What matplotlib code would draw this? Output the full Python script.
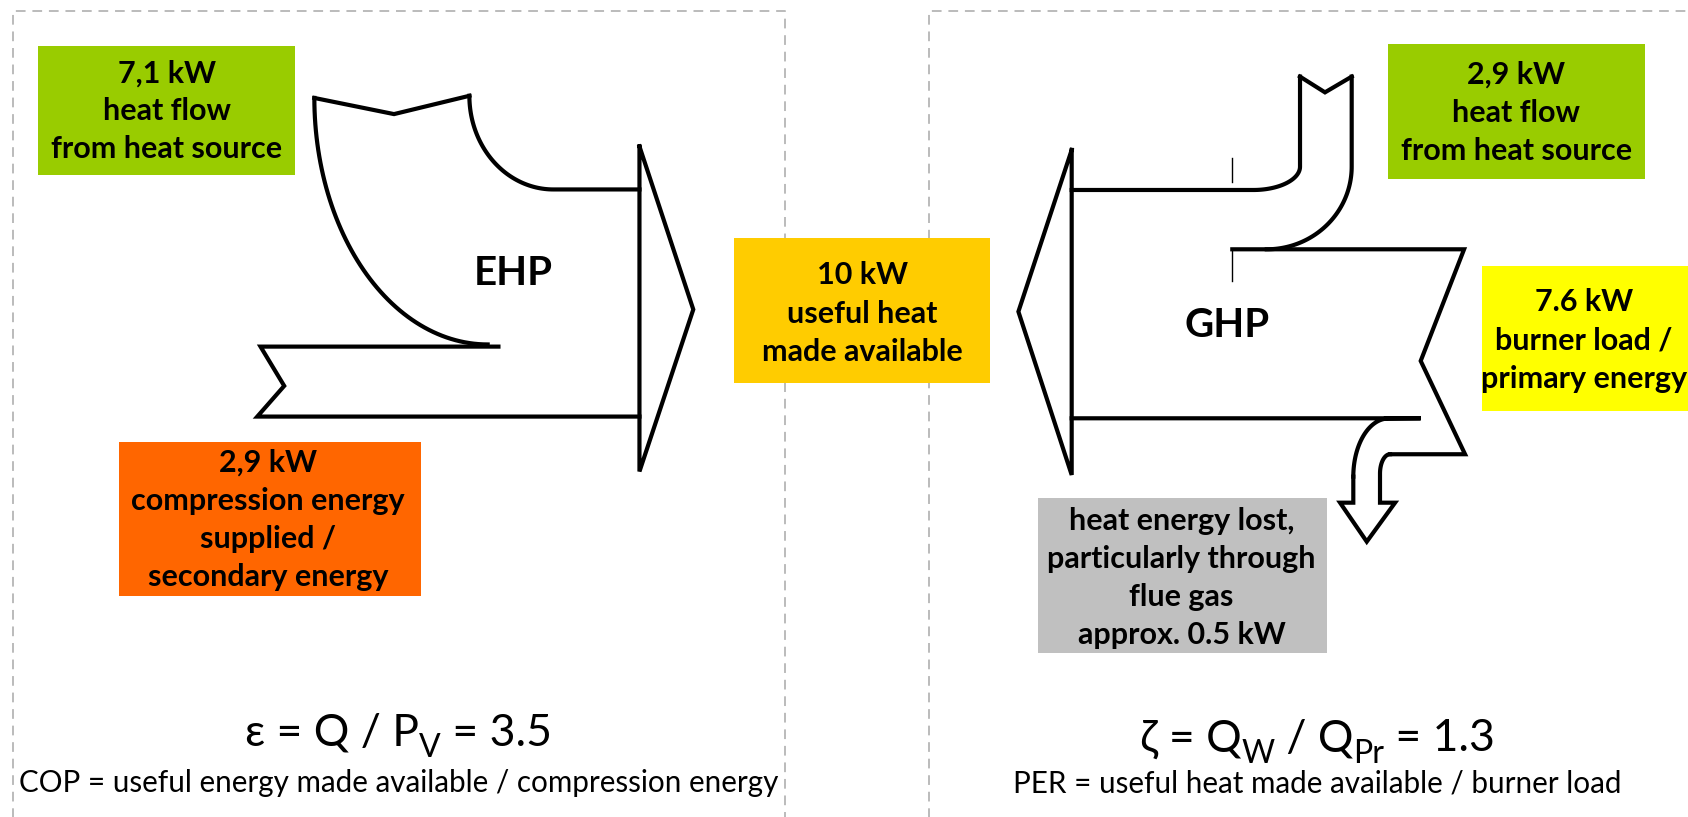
import numpy as np
import matplotlib
matplotlib.use("Agg")
import matplotlib.pyplot as plt
from matplotlib.patches import Rectangle
from matplotlib.transforms import IdentityTransform

# box texts (values in kW)
ehp_source_lines = ["7,1 kW", "heat flow", "from heat source"]
ehp_drive_lines = ["2,9 kW", "compression energy", "supplied /", "secondary energy"]
useful_lines = ["10 kW", "useful heat", "made available"]
ghp_source_lines = ["2,9 kW", "heat flow", "from heat source"]
ghp_burner_lines = ["7.6 kW", "burner load /", "primary energy"]
ghp_loss_lines = ["heat energy lost,", "particularly through", "flue gas", "approx. 0.5 kW"]

cop_value = "3.5"
per_value = "1.3"
cop_text = "COP = useful energy made available / compression energy"
per_text = "PER = useful heat made available / burner load"

FONT = ["Lato", "Noto Sans", "DejaVu Sans"]
LW = 3

fig = plt.figure(figsize=(16.88, 8.17), dpi=100)
ax = fig.add_axes([0, 0, 1, 1])
ax.set_xlim(0, 1568)
ax.set_ylim(759, 0)
ax.axis("off")


def arc(cx, cy, a, b, t0, t1, n=60):
    t = np.linspace(t0, t1, n)
    return cx + a * np.cos(t), cy + b * np.sin(t)


def line(xs, ys, lw=LW):
    ax.plot(xs, ys, color="black", lw=lw, solid_joinstyle="miter",
            solid_capstyle="projecting", zorder=3)


def box(x0, y0, x1, y1, color, lines, cx, ytop, step):
    ax.add_patch(Rectangle((x0, y0), x1 - x0, y1 - y0, facecolor=color,
                           edgecolor="none", zorder=2))
    for i, s in enumerate(lines):
        ax.text(cx, ytop + i * step, s, ha="center", va="center_baseline",
                fontsize=22, fontweight="bold", family=FONT, zorder=4)


# dashed frames
dash = dict(color="#bbbbbb", lw=1.4, ls=(0, (5, 3.5)), zorder=1)
ax.plot([12, 12, 729, 729], [800, 10, 10, 800], **dash)
ax.plot([863, 863, 1600], [800, 10, 10], **dash)

# coloured boxes
box(35.5, 42.7, 274, 162.3, "#99cc00", ehp_source_lines, 155, 66.5, 34.7)
box(111, 410.5, 391, 554, "#ff6600", ehp_drive_lines, 249, 427.5, 35.5)
box(682, 221, 920, 355.5, "#ffcc00", useful_lines, 801, 253, 36)
box(1289.5, 41, 1528, 166, "#99cc00", ghp_source_lines, 1408.5, 66.7, 35.8)
box(1376.5, 247, 1600, 382, "#ffff00", ghp_burner_lines, 1471, 278.3, 35.8)
box(964, 463, 1232.5, 607, "#c0c0c0", ghp_loss_lines, 1097.5, 481.5, 35.5)

# EHP outline
line([292, 366, 436], [91, 106, 89])
x, y = arc(453, 91, 161, 229, np.pi, np.pi / 2)
line(x, y)
x, y = arc(514, 89, 78, 87, np.pi, np.pi / 2)
line(np.r_[x, 594], np.r_[y, 176])
line([463, 242, 264, 239, 594], [322, 322, 358.5, 387, 387])
line([594, 644, 594, 594], [136, 287.5, 438, 136])
ax.text(476.5, 251, "EHP", ha="center", va="center_baseline", fontsize=29,
        fontweight="bold", family=FONT, zorder=4)

# GHP outline
line([1207.6, 1230.8, 1255.6], [71.2, 85.8, 71.2])
x, y = arc(1164.3, 154.8, 43.3, 21.7, 0, np.pi / 2)
line(np.r_[1207.6, x, 995.5], np.r_[71.2, y, 176.5])
x, y = arc(1176.7, 154.8, 78.9, 76.8, 0, np.pi / 2)
line(np.r_[1255.6, x], np.r_[71.2, y])
line([1144.7, 1360, 1319.7, 1360.9, 1291.2], [231.6, 231.6, 335.3, 422, 422])
x, y = arc(1291.2, 440, 9.3, 18, -np.pi / 2, -np.pi)
line(np.r_[x, 1281.9, 1295.9, 1269.6, 1244.8, 1257.1, 1257.1],
     np.r_[y, 467, 467, 503.2, 467, 467, 442.8])
x, y = arc(1289.7, 442.8, 32.6, 54, np.pi, 1.5 * np.pi)
line(np.r_[x, 1319.7, 995.5], np.r_[y, 388.6, 388.6])
line([995.5, 946, 995.5, 995.5], [139.3, 289.5, 441.2, 139.3])
line([1144.7, 1144.7], [147, 168.8], lw=1)
line([1144.7, 1144.7], [231.6, 260.7], lw=1)
ax.text(1139.5, 298.8, "GHP", ha="center", va="center_baseline", fontsize=29,
        fontweight="bold", family=FONT, zorder=4)

# formulas built from pieces (normal / subscript)
renderer = fig.canvas.get_renderer()


def formula(cx, cy, pieces, size):
    texts, widths = [], []
    for s, sub in pieces:
        t = ax.text(0, 0, s, fontsize=size * 0.72 if sub else size,
                    family=FONT, ha="left", va="baseline", zorder=4)
        texts.append(t)
        widths.append(t.get_window_extent(renderer).width)
    px, py = ax.transData.transform((cx, cy))
    base = py - size * 100 / 72 * 0.36
    cur = px - sum(widths) / 2
    for t, w, (s, sub) in zip(texts, widths, pieces):
        t.set_transform(IdentityTransform())
        t.set_position((cur, base - (size * 100 / 72 * 0.26 if sub else 0)))
        cur += w


formula(370, 678, [("ε = Q / P", False), ("V", True),
                   (" = " + cop_value, False)], 32)
formula(1224, 683, [("ζ = Q", False), ("W", True), (" / Q", False),
                    ("Pr", True), (" = " + per_value, False)], 32)

ax.text(370, 725, cop_text, ha="center", va="center_baseline", fontsize=21.3,
        family=FONT, zorder=4)
ax.text(1224, 726, per_text, ha="center", va="center_baseline", fontsize=21.3,
        family=FONT, zorder=4)

fig.savefig("out.png", dpi=100)
